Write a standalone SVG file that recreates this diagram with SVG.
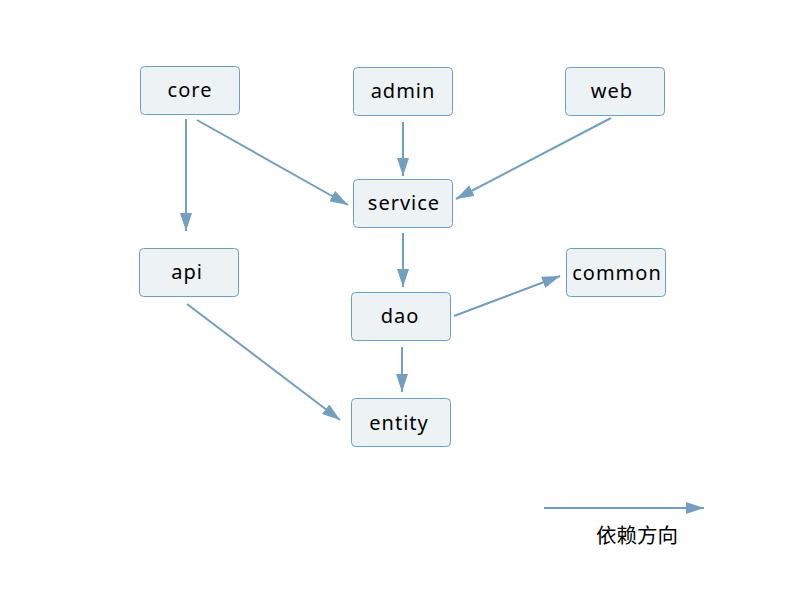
<svg xmlns="http://www.w3.org/2000/svg" width="800" height="600" viewBox="0 0 800 600">
<style>
.box{fill:#EDF2F5;stroke:#6F9FC0;stroke-width:1}
.lbl{font-family:"Noto Sans","DejaVu Sans",sans-serif;font-size:20px;fill:#000;text-anchor:middle;letter-spacing:1px}
.edge{stroke:#729FBF;stroke-width:2;fill:none;marker-end:url(#arr)}
.leg{font-family:"Noto Sans CJK SC",sans-serif;font-size:20.5px;fill:#000}
</style>
<defs>
<marker id="arr" markerUnits="userSpaceOnUse" markerWidth="20" markerHeight="12" refX="18" refY="6" orient="auto">
<path d="M0,0 L18,6 L0,12 Z" fill="#729FBF"/>
</marker>
</defs>
<rect width="800" height="600" fill="#fff"/>
<g id="edges">
<line class="edge" x1="186" y1="119" x2="186" y2="231"/>
<line class="edge" x1="197" y1="120" x2="348" y2="205"/>
<line class="edge" x1="403" y1="122" x2="403" y2="176"/>
<line class="edge" x1="611" y1="118" x2="456" y2="199"/>
<line class="edge" x1="403" y1="233" x2="403" y2="287"/>
<line class="edge" x1="454" y1="316" x2="560" y2="276"/>
<line class="edge" x1="402" y1="347" x2="402" y2="392"/>
<line class="edge" x1="187" y1="304" x2="340" y2="420"/>
</g>
<g id="core"><rect class="box" x="140.5" y="66.5" width="99" height="48" rx="4"/><text class="lbl" x="190" y="97">core</text></g>
<g id="admin"><rect class="box" x="353.5" y="67.5" width="99" height="48" rx="4"/><text class="lbl" x="403" y="98">admin</text></g>
<g id="web"><rect class="box" x="565.5" y="67.5" width="99" height="48" rx="4"/><text class="lbl" x="612" y="98">web</text></g>
<g id="service"><rect class="box" x="353.5" y="179.5" width="99" height="48" rx="4"/><text class="lbl" x="404" y="210">service</text></g>
<g id="api"><rect class="box" x="139.5" y="248.5" width="99" height="48" rx="4"/><text class="lbl" x="187" y="279">api</text></g>
<g id="common"><rect class="box" x="566.5" y="248.5" width="99" height="48" rx="4"/><text class="lbl" x="617" y="280">common</text></g>
<g id="dao"><rect class="box" x="351.5" y="292.5" width="99" height="48" rx="4"/><text class="lbl" x="400" y="323">dao</text></g>
<g id="entity"><rect class="box" x="351.5" y="398.5" width="99" height="48" rx="4"/><text class="lbl" x="399" y="430">entity</text></g>
<g id="legend">
<line class="edge" x1="544" y1="508" x2="704" y2="508"/>
<text class="leg" x="596" y="543">依赖方向</text>
</g>
</svg>
